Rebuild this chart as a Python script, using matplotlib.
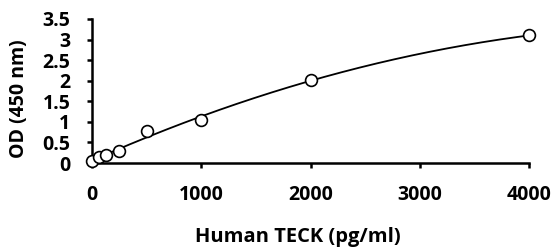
import numpy as np
import matplotlib
matplotlib.use("Agg")
import matplotlib.pyplot as plt

conc = [0, 62.5, 125, 250, 500, 1000, 2000, 4000]
od = [0.04, 0.14, 0.19, 0.29, 0.79, 1.04, 2.01, 3.10]
xticks = [0, 1000, 2000, 3000, 4000]
yticks = [0, 0.5, 1, 1.5, 2, 2.5, 3, 3.5]
ytick_labels = ["0", "0.5", "1", "1.5", "2", "2.5", "3", "3.5"]

plt.rcParams['font.family'] = ['Open Sans', 'DejaVu Sans']
plt.rcParams['font.weight'] = 'bold'

fig = plt.figure(figsize=(5.57, 2.49), dpi=100)
ax = fig.add_axes([0.165, 0.345, 0.785, 0.579])

coef = np.polyfit(conc, od, 2)
xs = np.linspace(0, 4000, 300)
ax.plot(xs, np.polyval(coef, xs), color='black', lw=1.3, zorder=2)
ax.plot(conc, od, 'o', ms=8.5, mfc='white', mec='black', mew=1.2, clip_on=False, zorder=3)

ax.set_xlim(0, 4000)
ax.set_ylim(0, 3.5)
ax.set_xticks(xticks)
ax.set_xticklabels([str(t) for t in xticks])
ax.set_yticks(yticks)
ax.set_yticklabels(ytick_labels)
for s in ['top', 'right']:
    ax.spines[s].set_visible(False)
for s in ['left', 'bottom']:
    ax.spines[s].set_linewidth(1.8)
ax.tick_params(axis='both', width=1.8, length=3.5, labelsize=14)
ax.tick_params(axis='y', pad=12)
ax.tick_params(axis='x', pad=12)
for lab in ax.get_xticklabels() + ax.get_yticklabels():
    lab.set_fontweight('bold')
ax.set_xlabel("Human TECK (pg/ml)", fontsize=14.5, fontweight='bold')
ax.xaxis.set_label_coords(0.47, -0.44)
ax.set_ylabel("OD (450 nm)", fontsize=14, fontweight='bold')
ax.yaxis.set_label_coords(-0.145, 0.45)

fig.savefig("out.png", dpi=100)
